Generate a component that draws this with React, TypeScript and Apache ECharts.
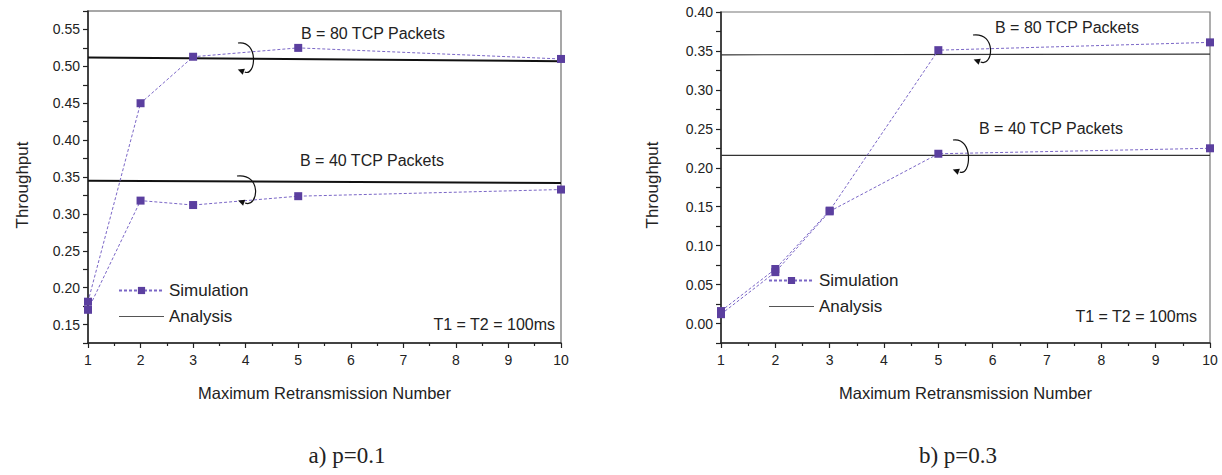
import React, { useEffect, useRef } from "react";
import * as echarts from "echarts";

// Maximum retransmission number at which the simulation was run
const retransmissions = [1, 2, 3, 5, 10];
// Analysis curves are drawn between the two ends of the x range
const analysisX = [1, 10];

// p = 0.1
const simB80p1 = [0.181, 0.45, 0.513, 0.525, 0.51];
const simB40p1 = [0.17, 0.318, 0.312, 0.324, 0.333];
const anaB80p1 = [0.512, 0.507];
const anaB40p1 = [0.345, 0.342];

// p = 0.3
const simB80p3 = [0.016, 0.07, 0.145, 0.351, 0.361];
const simB40p3 = [0.012, 0.066, 0.144, 0.218, 0.225];
const anaB80p3 = [0.345, 0.346];
const anaB40p3 = [0.216, 0.216];

const yRangeP1 = [0.125, 0.575];
const yRangeP3 = [-0.025, 0.4];

const FONT = "'Liberation Sans', Arial, sans-serif";
const SERIF = "'Liberation Serif', 'Times New Roman', serif";
const TEXT = "#222";
const MARKER = "#5b3f9f";
const SIMLINE = "#7a66c6";

const pairs = (xs: number[], ys: number[]) => xs.map((x, i) => [x, ys[i]]);

function yLabel(v: number) {
  const k = v / 0.05;
  return Math.abs(k - Math.round(k)) < 1e-6 ? v.toFixed(2) : "";
}

function xAxis(gridIndex: number) {
  return {
    type: "value",
    gridIndex,
    min: 1,
    max: 10,
    interval: 1,
    name: "Maximum Retransmission Number",
    nameLocation: "middle",
    nameGap: 41,
    nameTextStyle: { fontFamily: FONT, fontSize: 16.5, color: TEXT },
    axisLine: { onZero: false, lineStyle: { color: "#222", width: 1.5 } },
    axisTick: { show: true, inside: false, length: 5, lineStyle: { color: "#222", width: 1.2 } },
    minorTick: { show: true, splitNumber: 2, length: 3, lineStyle: { color: "#222", width: 1.2 } },
    splitLine: { show: false },
    axisLabel: { fontFamily: FONT, fontSize: 14, color: TEXT, margin: 10 },
  };
}

function yAxis(gridIndex: number, range: number[]) {
  return {
    type: "value",
    gridIndex,
    min: range[0],
    max: range[1],
    interval: 0.025,
    axisLine: { show: true, onZero: false, lineStyle: { color: "#222", width: 1.5 } },
    axisTick: { show: true, inside: false, length: 5, lineStyle: { color: "#222", width: 1.2 } },
    splitLine: { show: false },
    axisLabel: { fontFamily: FONT, fontSize: 14, color: TEXT, margin: 8, formatter: yLabel },
  };
}

function simSeries(idx: number, xs: number[], ys: number[]) {
  return {
    type: "line",
    name: "Simulation",
    xAxisIndex: idx,
    yAxisIndex: idx,
    data: pairs(xs, ys),
    symbol: "rect",
    symbolSize: 8,
    itemStyle: { color: MARKER },
    lineStyle: { color: SIMLINE, width: 1, type: [3, 2] },
    z: 4,
  };
}

function anaSeries(idx: number, ys: number[], width: number, color: string) {
  return {
    type: "line",
    name: "Analysis",
    xAxisIndex: idx,
    yAxisIndex: idx,
    data: pairs(analysisX, ys),
    symbol: "none",
    lineStyle: { color, width },
    itemStyle: { color },
    z: 3,
  };
}

// A looping arrow that points at a pair of curves
function loopArrow(x: number, y: number, w: number, h: number) {
  const end = [x + w * 0.45, y + h - 1];
  const tip = [end[0] - 7, end[1] - 2.5];
  const dx = tip[0] - end[0];
  const dy = tip[1] - end[1];
  const len = Math.hypot(dx, dy);
  const px = (-dy / len) * 3.2;
  const py = (dx / len) * 3.2;
  const base = [end[0] + (dx / len) * 1, end[1] + (dy / len) * 1];
  return [
    {
      type: "bezierCurve",
      shape: {
        x1: x,
        y1: y,
        cpx1: x + w * 1.4,
        cpy1: y - 3,
        cpx2: x + w * 1.2,
        cpy2: y + h + 4,
        x2: end[0],
        y2: end[1],
      },
      style: { stroke: "#111", lineWidth: 1.2, fill: null },
      z: 10,
    },
    {
      type: "polygon",
      shape: {
        points: [
          [tip[0], tip[1]],
          [base[0] + px, base[1] + py],
          [base[0] - px, base[1] - py],
        ],
      },
      style: { fill: "#111" },
      z: 10,
    },
  ];
}

function note(text: string, x: number, y: number, size = 16, family = FONT, align = "left") {
  return {
    type: "text",
    x,
    y,
    style: {
      text,
      fontFamily: family,
      fontSize: size,
      fill: TEXT,
      align,
      verticalAlign: "middle",
    },
    z: 10,
  };
}

function verticalTitle(text: string, x: number, y: number) {
  return {
    type: "text",
    x,
    y,
    rotation: Math.PI / 2,
    style: {
      text,
      fontFamily: FONT,
      fontSize: 17,
      fill: TEXT,
      align: "center",
      verticalAlign: "middle",
    },
    z: 10,
  };
}

function legend(left: number, top: number) {
  return {
    data: [
      "Simulation",
      { name: "Analysis", itemStyle: { opacity: 0 }, lineStyle: { color: "#555", width: 1.2 } },
    ],
    orient: "vertical",
    left,
    top,
    padding: 0,
    itemWidth: 45,
    itemHeight: 9,
    itemGap: 9,
    itemTextGap: 5,
    selectedMode: false,
    textStyle: { fontFamily: FONT, fontSize: 17, color: TEXT },
  };
}

export default function App() {
  const ref = useRef<HTMLDivElement>(null);

  useEffect(() => {
    if (!ref.current) return;
    const chart = echarts.init(ref.current, undefined, { renderer: "svg" });
    chart.setOption({
      animation: false,
      backgroundColor: "#fff",
      grid: [
        { left: 88, top: 11, width: 473, height: 332, show: true, borderColor: "#8a8a8a", borderWidth: 1.5, backgroundColor: "transparent" },
        { left: 721, top: 12, width: 489, height: 331, show: true, borderColor: "#777", borderWidth: 1.2, backgroundColor: "transparent" },
      ],
      xAxis: [xAxis(0), xAxis(1)],
      yAxis: [yAxis(0, yRangeP1), yAxis(1, yRangeP3)],
      legend: [legend(118, 282), legend(768, 272)],
      series: [
        anaSeries(0, anaB80p1, 2, "#111"),
        anaSeries(0, anaB40p1, 2, "#111"),
        simSeries(0, retransmissions, simB80p1),
        simSeries(0, retransmissions, simB40p1),
        anaSeries(1, anaB80p3, 1.2, "#333"),
        anaSeries(1, anaB40p3, 1.2, "#333"),
        simSeries(1, retransmissions, simB80p3),
        simSeries(1, retransmissions, simB40p3),
      ],
      graphic: [
        verticalTitle("Throughput", 22, 185),
        verticalTitle("Throughput", 652, 185),
        note("B = 80 TCP Packets", 301, 33),
        note("B = 40 TCP Packets", 300, 160),
        note("T1 = T2 = 100ms", 555, 324, 16, FONT, "right"),
        note("B = 80 TCP Packets", 995, 27),
        note("B = 40 TCP Packets", 979, 128),
        note("T1 = T2 = 100ms", 1197, 316, 16, FONT, "right"),
        note("a) p=0.1", 347, 455, 23, SERIF, "center"),
        note("b) p=0.3", 958, 455, 23, SERIF, "center"),
        ...loopArrow(238, 43, 15, 30),
        ...loopArrow(237, 176, 18, 28),
        ...loopArrow(973, 35, 17, 28),
        ...loopArrow(953, 140, 15, 33),
      ],
    });
    return () => chart.dispose();
  }, []);

  return (
    <div
      ref={ref}
      style={{ position: "absolute", left: 0, top: 0, width: 1222, height: 475 }}
    />
  );
}
